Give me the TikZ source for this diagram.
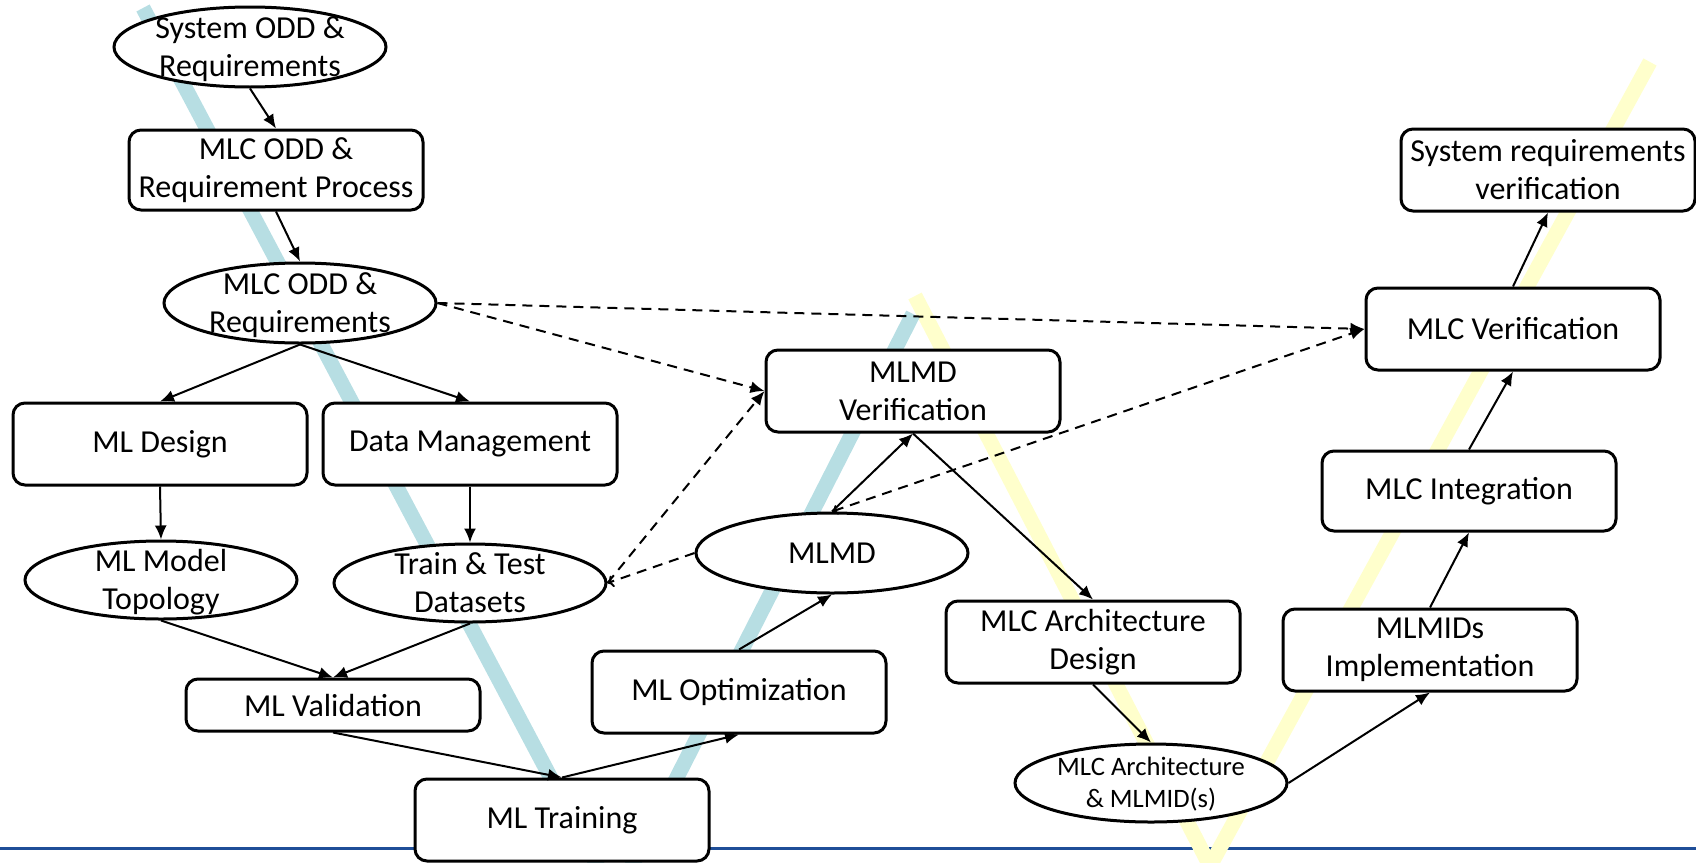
\documentclass[tikz,border=0pt]{standalone}
\usepackage{fontspec}
\setmainfont{Carlito}
\usetikzlibrary{shapes.geometric,arrows.meta}
\definecolor{vblue}{RGB}{183,222,227}
\definecolor{vyellow}{RGB}{255,255,204}
\definecolor{footrule}{RGB}{31,78,152}
\newcommand{\twolines}[3][-6pt]{\smash{\raisebox{#1}{\begin{tabular}{@{}c@{}}#2\\#3\end{tabular}}}}

\tikzset{
  stage/.style={draw, rounded corners=6pt, line width=1.5pt, fill=white, align=center,
    minimum width=147pt, minimum height=41pt, inner sep=2pt},
  artefact/.style={draw, ellipse, line width=1.5pt, fill=white,
    minimum width=136pt, minimum height=40pt, inner sep=0pt},
  flow/.style={line width=1pt, -{Latex[length=7pt,width=6pt]}},
  link/.style={flow, dash pattern=on 5pt off 3.5pt},
  band/.style={line width=7.5pt},
}

\begin{document}
\begin{tikzpicture}[x=0.5pt, y=-0.5pt, every node/.style={font=\fontsize{16}{19}\selectfont}]
  \useasboundingbox (0,0) rectangle (1696,862);
  \begin{scope}
    \clip (0,0) rectangle (1696,862);
    \draw[footrule, line width=1.5pt] (0,848) -- (1696,848);
    % the two V's behind the flow
    \draw[band, vyellow] (915,296) -- (1210,866) -- (1650,62);
    \draw[band, vblue] (143,8) -- (615,899) -- (913,314);
  \end{scope}

  \node[artefact] (sysodd) at (250,47) {\twolines{System ODD \&}{Requirements}};
  \node[stage, minimum height=40pt] (mlcproc) at (276,170) {MLC ODD \&\\Requirement Process};
  \node[artefact] (mlcodd) at (300,303) {\twolines{MLC ODD \&}{Requirements}};
  \node[stage] (mldesign) at (160,444) {ML Design};
  \node[stage] (datamgmt) at (470,444) {Data Management};
  \node[artefact, minimum height=39pt] (mltopo) at (161,580) {\twolines{ML Model}{Topology}};
  \node[artefact, minimum height=39pt] (traintest) at (470,583) {\twolines{Train \& Test}{Datasets}};
  \node[stage, minimum height=26pt] (mlvalid) at (333,705) {ML Validation};
  \node[stage] (mltrain) at (562,820) {ML Training};
  \node[stage] (mlopt) at (739,692) {ML Optimization};
  \node[artefact] (mlmd) at (832,553) {MLMD};
  \node[stage] (mlmdver) at (913,391) {MLMD\\Verification};
  \node[stage] (mlcarch) at (1093,642) {MLC Architecture\\Design};
  \node[artefact, minimum height=39pt, font=\fontsize{13.3}{16.2}\selectfont] (mlcarchmid) at (1151,783)
    {\twolines[-4.5pt]{MLC Architecture}{\& MLMID(s)}};
  \node[stage] (mlmidimpl) at (1430,650) {MLMIDs\\Implementation};
  \node[stage, minimum height=40pt] (mlcinteg) at (1469,491) {MLC Integration};
  \node[stage] (mlcver) at (1513,329) {MLC Verification};
  \node[stage] (sysver) at (1548,170) {System requirements\\verification};

  \foreach \a/\b in {sysodd.south/mlcproc.north, mlcproc.south/mlcodd.north,
      mlcodd.south/mldesign.north, mlcodd.south/datamgmt.north,
      mldesign.south/mltopo.north, datamgmt.south/traintest.north,
      mltopo.south/mlvalid.north, traintest.south/mlvalid.north,
      mlvalid.south/mltrain.north, mltrain.north/mlopt.south,
      mlopt.north/mlmd.south, mlmd.north/mlmdver.south,
      mlmdver.south/mlcarch.north, mlcarch.south/mlcarchmid.north,
      mlcarchmid.east/mlmidimpl.south, mlmidimpl.north/mlcinteg.south,
      mlcinteg.north/mlcver.south, mlcver.north/sysver.south}
    \draw[flow] (\a) -- (\b);

  \draw[link] (mlcodd.east) -- (mlmdver.west);
  \draw[link] (mlcodd.east) -- (mlcver.west);
  \draw[link] (traintest.east) -- (mlmdver.west);
  \draw[link, -{To[length=3pt,width=6pt]}] (mlmd.west) -- (traintest.east);
  \draw[link, {To[length=3pt,width=5pt]}-{Latex[length=7pt,width=6pt]}] (mlmd.north) -- (mlcver.west);
\end{tikzpicture}
\end{document}
